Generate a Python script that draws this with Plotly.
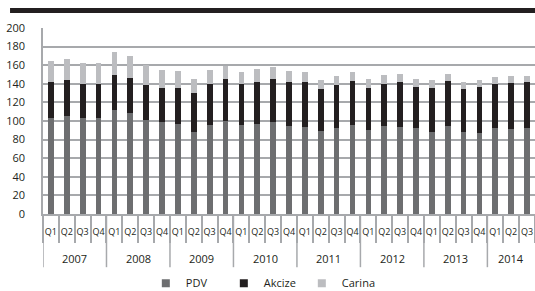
import plotly.graph_objects as go

years = ["2007"] * 4 + ["2008"] * 4 + ["2009"] * 4 + ["2010"] * 4 + ["2011"] * 4 + ["2012"] * 4 + ["2013"] * 4 + ["2014"] * 3
quarters = ["Q1", "Q2", "Q3", "Q4"] * 7 + ["Q1", "Q2", "Q3"]

pdv = [103.4, 105.6, 102.7, 102.7, 111.3, 108.8, 100.9, 98.4,
       97.0, 88.3, 95.9, 99.5, 96.2, 97.0, 99.1, 94.4,
       93.7, 89.4, 92.6, 96.2, 90.5, 94.8, 93.7, 92.6,
       88.7, 94.8, 88.0, 87.6, 92.3, 91.6, 92.6]
akcize = [38.4, 38.0, 37.0, 37.3, 38.4, 37.3, 37.3, 36.6,
          39.0, 41.7, 44.1, 45.6, 43.1, 44.5, 45.6, 47.1,
          47.8, 44.5, 45.6, 46.3, 44.5, 45.2, 48.1, 43.8,
          46.7, 48.1, 46.3, 48.5, 47.4, 49.2, 48.9]
carina = [22.7, 23.0, 22.6, 22.3, 24.4, 24.1, 22.3, 20.1,
          18.0, 15.4, 15.1, 13.6, 13.7, 14.0, 12.9, 12.5,
          11.1, 10.4, 10.5, 10.5, 10.0, 9.4, 9.0, 8.6,
          8.2, 7.9, 7.9, 7.5, 7.9, 7.1, 6.8]

series = [("PDV", pdv, "#6d6e70"), ("Akcize", akcize, "#231f20"), ("Carina", carina, "#bcbdc0")]

idx = list(range(len(quarters)))
year_list = []
for y in years:
    if y not in year_list:
        year_list.append(y)

fig = go.Figure()
for name, vals, col in series:
    fig.add_trace(go.Bar(x=idx, y=vals, name=name, showlegend=False,
                         marker=dict(color=col, line=dict(width=0))))
for name, vals, col in series:
    fig.add_trace(go.Scatter(x=[None], y=[None], mode="markers", name=name,
                             marker=dict(symbol="square", size=8, color=col)))

grid = "#a7a9ac"
shapes = [dict(type="rect", xref="paper", yref="paper", x0=-0.067, x1=1.0,
               y0=1.081, y1=1.108, fillcolor="#231f20", line=dict(width=0))]
annotations = []
for yr in year_list:
    pos = [i for i, y in enumerate(years) if y == yr]
    start = pos[0] - 0.5
    shapes.append(dict(type="line", xref="x", yref="paper", x0=start, x1=start,
                       y0=0, y1=-0.286, line=dict(color=grid, width=1.5)))
    annotations.append(dict(x=sum(pos) / len(pos), y=-0.237, xref="x", yref="paper",
                            text=yr, showarrow=False, yanchor="middle",
                            font=dict(size=11)))

fig.update_layout(
    width=535, height=291,
    barmode="stack", bargap=0.64,
    margin=dict(l=43, r=0, t=28, b=77, autoexpand=False),
    paper_bgcolor="white", plot_bgcolor="white",
    font=dict(family="Open Sans", size=10, color="#231f20"),
    showlegend=True,
    legend=dict(orientation="h", x=0.209, xanchor="left", y=-0.372, yanchor="middle",
                font=dict(size=11), entrywidth=33, entrywidthmode="pixels",
                itemwidth=30, traceorder="normal", tracegroupgap=0),
    xaxis=dict(range=[-0.5, 30.5], automargin=False, showgrid=False, showline=True,
               linecolor=grid, linewidth=1.5,
               zeroline=False, tickmode="array", tickvals=idx, ticktext=quarters,
               ticks="", tickangle=0, tickfont=dict(size=9), ticklabelstandoff=8,
               minor=dict(ticks="outside", tick0=-0.5, dtick=1, ticklen=27,
                          tickcolor=grid, tickwidth=1.5, showgrid=False)),
    yaxis=dict(range=[0, 200], dtick=20, automargin=False, showgrid=True, gridcolor=grid,
               gridwidth=1.5, showline=True, linecolor=grid, linewidth=1.5, zeroline=False,
               ticks="", tickfont=dict(size=11), ticklabelstandoff=14),
    shapes=shapes,
    annotations=annotations,
)

fig.write_html("out.html", config={"displayModeBar": False},
               post_script="document.body.style.margin='0';")
